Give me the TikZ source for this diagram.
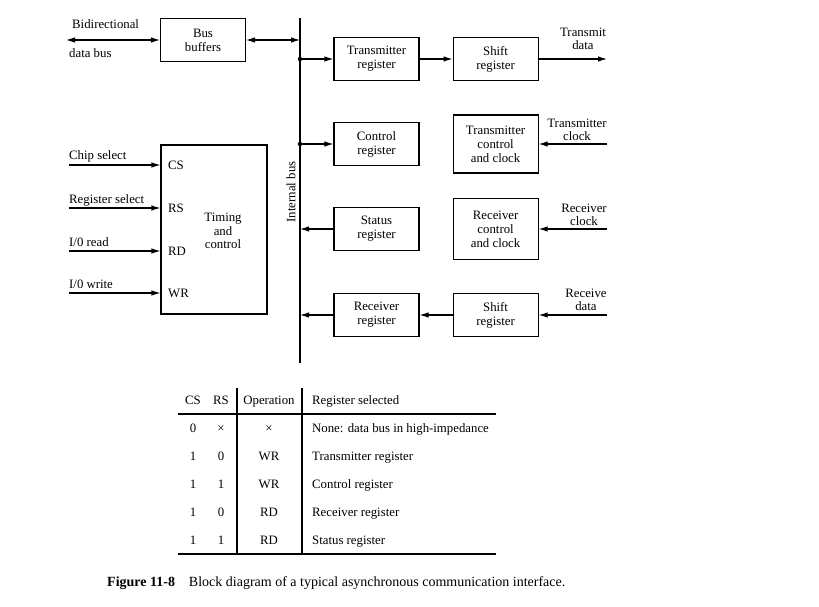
\documentclass[tikz,border=0pt]{standalone}
\usepackage{fontspec}
\setmainfont{Liberation Serif}
\usepackage{tikz}
\usetikzlibrary{arrows.meta,positioning,calc}
\tikzset{
  blk/.style   ={rectangle, draw, line width=1.1pt, minimum width=85pt,
                 minimum height=43pt, align=center, inner sep=1pt,
                 font=\fontsize{12.8}{14}\selectfont},
  lbl/.style   ={inner sep=0pt, align=center, font=\fontsize{12.8}{13.5}\selectfont},
  cell/.style  ={lbl, text height=9pt, text depth=3pt},
  ar/.style    ={-{Latex[length=9pt,width=5.5pt]}, line width=1.1pt},
  dar/.style   ={{Latex[length=9pt,width=5.5pt]}-{Latex[length=9pt,width=5.5pt]}, line width=1.1pt},
  dot/.style   ={circle, fill, inner sep=0pt, minimum size=4.5pt}
}
\begin{document}
\begin{tikzpicture}[x=1pt, y=-1pt, node distance=33pt]
\useasboundingbox (0,0) rectangle (819,607);
% bus buffers and data bus
\node[blk, minimum width=85pt] (bb) at (203,40) {Bus\\buffers};
\coordinate (dbus) at (66,40);
\draw[dar] (dbus) -- (bb.west);
\node[cell, anchor=west] (bdl) at (72,26) {Bidirectional};
\node[cell, anchor=west] (dbl) at (69,55) {data bus};
% internal bus
\coordinate (btop) at (300,18);
\coordinate (bbot) at (300,363);
\draw[line width=1.1pt] (btop) -- (bbot);
\node[lbl, rotate=90] (ibl) at (291,192) {Internal bus};
\draw[dar] (bb.east) -- (bb.east -| btop);
% register column
\node[blk] (tr) at (376.5,59) {Transmitter\\register};
\node[blk, right=of tr] (sh1) {Shift\\register};
\node[blk] (cr) at (376.5,144) {Control\\register};
\node[blk, right=of cr, minimum height=58pt] (tcc) {Transmitter\\control\\and clock};
\node[blk] (sr) at (376.5,229) {Status\\register};
\node[blk, right=of sr, minimum height=61pt] (rcc) {Receiver\\control\\and clock};
\node[blk] (rr) at (376.5,315) {Receiver\\register};
\node[blk, right=of rr] (sh2) {Shift\\register};
% bus connections
\node[dot] (d1) at (tr.west -| btop) {};
\node[dot] (d2) at (cr.west -| btop) {};
\draw[ar] (d1) -- (tr.west);
\draw[ar] (d2) -- (cr.west);
\draw[ar] (sr.west) -- (sr.west -| btop);
\draw[ar] (rr.west) -- (rr.west -| btop);
\draw[ar] (tr) -- (sh1);
\draw[ar] (sh2) -- (rr);
% serial side
\coordinate (txd) at (607,59);
\coordinate (txc) at (607,144);
\coordinate (rxc) at (607,229);
\coordinate (rxd) at (607,315);
\draw[ar] (sh1.east) -- (txd);
\draw[ar] (txc) -- (tcc.east |- txc);
\draw[ar] (rxc) -- (rcc.east |- rxc);
\draw[ar] (rxd) -- (sh2.east);
\node[lbl] (txdl) at (583,39) {Transmit\\data};
\node[lbl] (txcl) at (577,130) {Transmitter\\clock};
\node[lbl] (rxcl) at (584,215) {Receiver\\clock};
\node[lbl] (rxdl) at (586,300) {Receive\\data};
% timing and control
\node[blk, minimum width=106pt, minimum height=169pt] (tc) at (214,229.5) {};
\node[lbl] (tcl) at (223,231) {Timing\\and\\control};
\foreach \y/\pin/\txt in {165/CS/{Chip select}, 208/RS/{Register select},
                          251/RD/{I/0 read}, 293/WR/{I/0 write}}{
  \coordinate (in\pin) at (69,\y);
  \draw[ar] (in\pin) -- (in\pin -| tc.west);
  \node[cell, anchor=west] (p\pin) at (168,\y+1) {\pin};
  \node[cell, anchor=west] at (69,\y-8) {\txt};
}
% selection table
\node[cell] (hcs) at (193,401) {CS};
\node[cell] (hrs) at (221,401) {RS};
\node[cell] (hop) at (269,401) {Operation};
\node[cell, anchor=west] (hreg) at (312,401) {Register selected};
\draw[line width=1.1pt] (178,414) -- (496,414);
\draw[line width=1.7pt] (178,554) -- (496,554);
\draw[line width=1.1pt] (237,388) -- (237,554);
\draw[line width=1.1pt] (302,388) -- (302,554);
\foreach \y/\cs/\rs/\op/\reg in {429/0/×/×/{None: data bus in high-impedance},
    457/1/0/WR/{Transmitter register}, 485/1/1/WR/{Control register},
    513/1/0/RD/{Receiver register}, 541/1/1/RD/{Status register}}{
  \node[cell] at (193,\y) {\cs};
  \node[cell] at (221,\y) {\rs};
  \node[cell] at (269,\y) {\op};
  \node[cell, anchor=west] at (312,\y) {\reg};
}
% caption
\node[cell, anchor=west, font=\fontsize{14}{15}\selectfont] (cap) at (107,583)
  {\textbf{Figure 11-8}\quad Block diagram of a typical asynchronous communication interface.};
\end{tikzpicture}
\end{document}
